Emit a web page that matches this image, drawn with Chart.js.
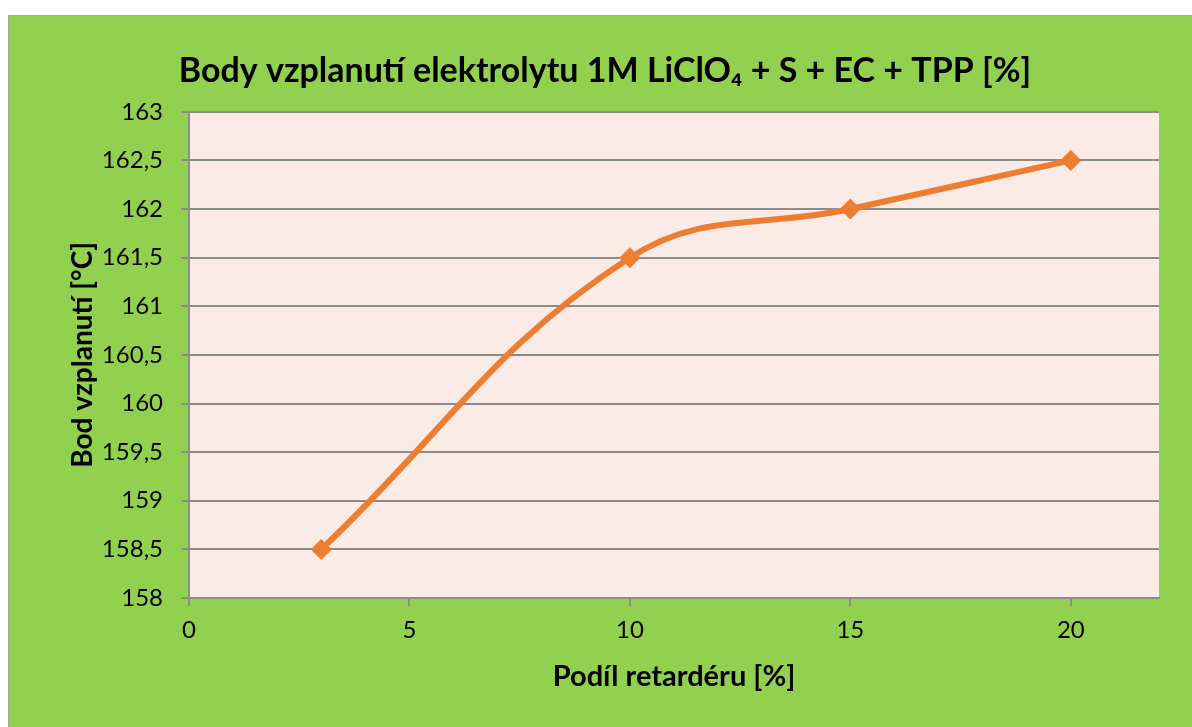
<!DOCTYPE html>
<html>
<head>
<meta charset="utf-8">
<script src="https://cdn.jsdelivr.net/npm/chart.js@4"></script>
<style>
  html, body { margin: 0; padding: 0; background: #ffffff; width: 1192px; height: 727px; overflow: hidden; }
  #frame { position: absolute; left: 8px; top: 15px; width: 1183px; height: 711px;
           border-left: 1px solid #a6a6a6; border-top: 1px solid #a6a6a6; background: #92D050; }
  canvas { display: block; }
</style>
</head>
<body>
<div id="frame"><canvas id="c" width="1183" height="711"></canvas></div>
<script>
const chartTitle = 'Body vzplanutí elektrolytu 1M LiClO\u2084 + S + EC + TPP [%]';
const xAxisTitle = 'Podíl retardéru [%]';
const yAxisTitle = 'Bod vzplanutí [°C]';
const xValues = [3, 10, 15, 20];
const yValues = [158.5, 161.5, 162, 162.5];
const xTickValues = [0, 5, 10, 15, 20];
const yTickValues = [158, 158.5, 159, 159.5, 160, 160.5, 161, 161.5, 162, 162.5, 163];

const points = xValues.map((x, i) => ({ x: x, y: yValues[i] }));

const plotBg = {
  id: 'plotBg',
  beforeDraw(chart) {
    const { ctx, chartArea: a } = chart;
    ctx.save();
    ctx.fillStyle = '#FBEBE7';
    ctx.fillRect(a.left, a.top, a.right - a.left, a.bottom - a.top);
    ctx.restore();
  }
};

const FONT = 'Lato, "Open Sans", sans-serif';

new Chart(document.getElementById('c'), {
  type: 'line',
  data: {
    datasets: [{
      data: points,
      borderColor: '#ED7D31',
      backgroundColor: '#ED7D31',
      borderWidth: 6,
      tension: 0.4,
      pointStyle: 'rectRot',
      pointRadius: 10,
      pointHoverRadius: 10,
      pointBackgroundColor: '#ED7D31',
      pointBorderColor: '#ED7D31',
      pointBorderWidth: 1,
      fill: false
    }]
  },
  options: {
    responsive: false,
    devicePixelRatio: 1,
    animation: false,
    layout: { padding: { left: 42, right: 33, top: 0, bottom: 0 } },
    plugins: {
      legend: { display: false },
      tooltip: { enabled: false },
      title: {
        display: true,
        text: chartTitle,
        color: '#000000',
        font: { family: FONT, size: 34, weight: 'bold', lineHeight: 1.2 },
        padding: { top: 35, bottom: 20 }
      }
    },
    scales: {
      x: {
        type: 'linear',
        min: 0,
        max: 22,
        afterBuildTicks(axis) { axis.ticks = xTickValues.map(v => ({ value: v })); },
        afterFit(axis) { axis.height = 129; },
        border: { display: true, color: '#8c8c8c', width: 2 },
        grid: { drawOnChartArea: false, drawTicks: true, tickLength: 8, color: '#8c8c8c', lineWidth: 2 },
        ticks: { color: '#000000', font: { family: FONT, size: 24 }, padding: 10, maxRotation: 0 },
        title: {
          display: true,
          text: xAxisTitle,
          color: '#000000',
          font: { family: FONT, size: 29, weight: 'bold', lineHeight: 1.2 },
          padding: { top: 0, bottom: 33 }
        }
      },
      y: {
        type: 'linear',
        min: 158,
        max: 163,
        afterBuildTicks(axis) { axis.ticks = yTickValues.map(v => ({ value: v })); },
        afterFit(axis) { axis.width = 138; },
        border: { display: true, color: '#8c8c8c', width: 2 },
        grid: { drawOnChartArea: true, drawTicks: true, tickLength: 8, color: '#8c8c8c', lineWidth: 2 },
        ticks: {
          color: '#000000',
          font: { family: FONT, size: 24 },
          padding: 18,
          callback: v => String(v).replace('.', ',')
        },
        title: {
          display: true,
          text: yAxisTitle,
          color: '#000000',
          font: { family: FONT, size: 28, weight: 'bold', lineHeight: 1.2 },
          padding: { top: 15, bottom: 0 }
        }
      }
    }
  },
  plugins: [plotBg]
});
</script>
</body>
</html>
